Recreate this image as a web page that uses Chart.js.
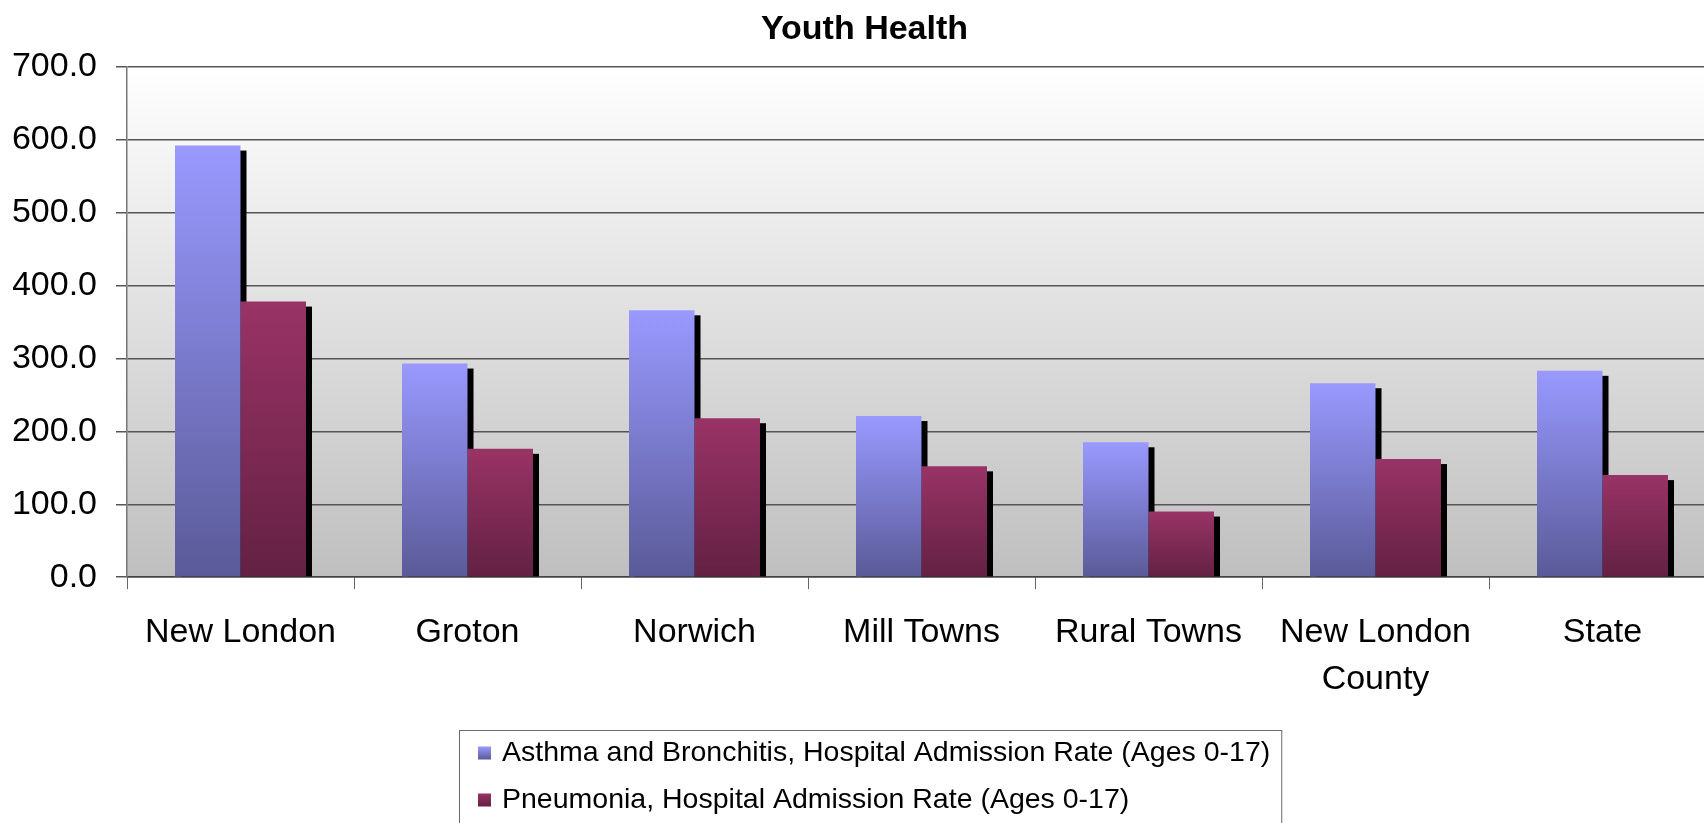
<!DOCTYPE html>
<html lang="en">
<head>
<meta charset="UTF-8">
<title>Youth Health</title>
<script src="https://cdn.jsdelivr.net/npm/chart.js"></script>
<style>
  body {
    margin: 0;
    background: #ffffff;
    overflow: hidden;
  }
</style>
</head>
<body>
<canvas id="youthChart" width="1716" height="823"></canvas>

<script>
// Admission rates per area (ages 0-17)
const areas = ['New London', 'Groton', 'Norwich', 'Mill Towns', 'Rural Towns', ['New London', 'County'], 'State'];
const asthmaRates = [592, 293, 366, 221, 185, 266, 283];
const pneumoniaRates = [378, 176, 218, 152, 90, 162, 140];
const seriesNames = [
  'Asthma and Bronchitis, Hospital Admission Rate (Ages 0-17)',
  'Pneumonia, Hospital Admission Rate (Ages 0-17)'
];

const FONT = '"Liberation Sans", Arial, sans-serif';
const asthmaShade = ['#9999ff', '#5a5a98'];
const pneumoniaShade = ['#993366', '#632143'];

// vertical gradient running from the top of each bar down to zero
function barFill(shade) {
  return (c) => {
    const chart = c.chart;
    if (!chart.chartArea || c.type !== 'data') return shade[0];
    const y = chart.scales.y;
    const g = chart.ctx.createLinearGradient(0, y.getPixelForValue(c.raw), 0, y.getPixelForValue(0));
    g.addColorStop(0, shade[0]);
    g.addColorStop(1, shade[1]);
    return g;
  };
}

// light-to-grey backdrop behind the plot
const plotBackdrop = {
  id: 'plotBackdrop',
  beforeDraw(chart) {
    const { ctx, chartArea: a } = chart;
    const g = ctx.createLinearGradient(0, a.top, 0, a.bottom);
    g.addColorStop(0, '#ffffff');
    g.addColorStop(1, '#bfbfbf');
    ctx.save();
    ctx.fillStyle = g;
    ctx.fillRect(a.left, a.top, a.right - a.left, a.bottom - a.top);
    ctx.restore();
  }
};

// hard black drop shadow behind every bar, painted before any bar so
// the neighbouring bar in a group sits on top of it
const barShadow = {
  id: 'barShadow',
  beforeDatasetsDraw(chart) {
    const ctx = chart.ctx;
    ctx.save();
    ctx.fillStyle = '#000000';
    chart.data.datasets.forEach((ds, i) => {
      chart.getDatasetMeta(i).data.forEach(bar => {
        const { x, y, base, width } = bar.getProps(['x', 'y', 'base', 'width'], true);
        ctx.fillRect(x - width / 2 + 6, y + 5, width, base - y - 5);
      });
    });
    ctx.restore();
  }
};

// legend stacked one entry per line inside a frame
const boxedLegend = {
  id: 'boxedLegend',
  afterDraw(chart) {
    const ctx = chart.ctx;
    const shades = [asthmaShade, pneumoniaShade];
    const top = chart.height - 93;
    const left = 459;
    ctx.save();
    ctx.font = '28.5px ' + FONT;
    const textW = Math.max(...chart.data.datasets.map(ds => ctx.measureText(ds.label).width));
    const w = 19 + 13 + 11 + textW + 11;
    ctx.strokeStyle = '#6a6a6a';
    ctx.lineWidth = 1;
    ctx.strokeRect(left + 0.5, top + 0.5, w, chart.height);
    chart.data.datasets.forEach((ds, i) => {
      const cy = top + 23 + i * 47;
      const sx = left + 19;
      const g = ctx.createLinearGradient(0, cy - 6.5, 0, cy + 6.5);
      g.addColorStop(0, shades[i][0]);
      g.addColorStop(1, shades[i][1]);
      ctx.fillStyle = g;
      ctx.fillRect(sx, cy - 6.5, 13, 13);
      ctx.fillStyle = '#000000';
      ctx.textBaseline = 'middle';
      ctx.textAlign = 'left';
      ctx.fillText(ds.label, sx + 13 + 11, cy);
    });
    ctx.restore();
  }
};

const ctx = document.getElementById('youthChart').getContext('2d');

new Chart(ctx, {
  type: 'bar',
  data: {
    labels: areas,
    datasets: [
      {
        label: seriesNames[0],
        data: asthmaRates,
        backgroundColor: barFill(asthmaShade),
        borderWidth: 0
      },
      {
        label: seriesNames[1],
        data: pneumoniaRates,
        backgroundColor: barFill(pneumoniaShade),
        borderWidth: 0
      }
    ]
  },
  options: {
    responsive: false,
    animation: false,
    devicePixelRatio: 1,
    layout: {
      padding: { left: 13, right: 0, top: 0, bottom: 100 }
    },
    datasets: {
      bar: {
        categoryPercentage: 0.577,
        barPercentage: 1.0
      }
    },
    plugins: {
      legend: { display: false },
      tooltip: { enabled: false },
      title: {
        display: true,
        text: 'Youth Health',
        color: '#000000',
        font: { family: FONT, size: 34, weight: 'bold' },
        padding: { top: 9, bottom: 17 }
      }
    },
    scales: {
      x: {
        grid: {
          drawOnChartArea: false,
          offset: true,
          tickLength: 12,
          color: '#666666'
        },
        border: { color: '#444444', width: 1.5 },
        ticks: {
          color: '#000000',
          font: { family: FONT, size: 34, lineHeight: 1.38 },
          padding: 20,
          maxRotation: 0,
          autoSkip: false
        }
      },
      y: {
        min: 0,
        max: 700,
        afterFit: (scale) => { scale.width = 114; },
        grid: {
          color: '#555555',
          lineWidth: 1.5,
          tickLength: 11
        },
        border: { color: '#777777', width: 1.5 },
        ticks: {
          stepSize: 100,
          color: '#000000',
          font: { family: FONT, size: 34 },
          padding: 19,
          callback: (v) => v.toFixed(1)
        }
      }
    }
  },
  plugins: [plotBackdrop, barShadow, boxedLegend]
});
</script>
</body>
</html>
